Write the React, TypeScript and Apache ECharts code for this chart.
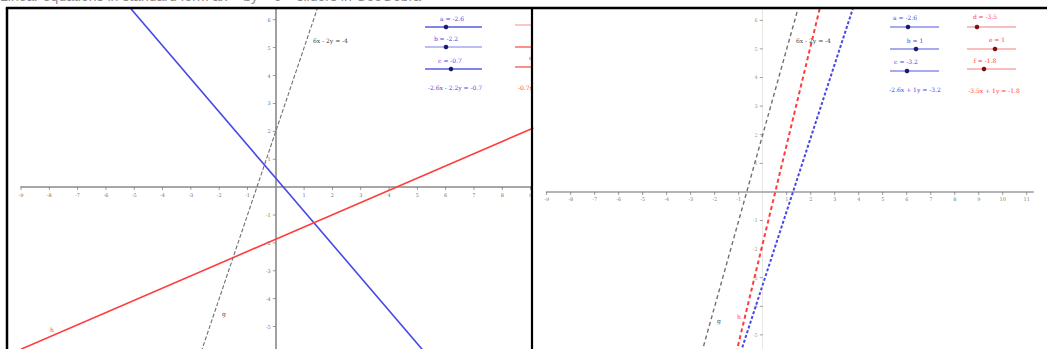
import React, { useEffect, useRef } from "react";
import * as echarts from "echarts";

// ---- data ----
const leftBlueLine = [[-5.3, 6.61], [5.2, -5.85]];
const leftRedLine = [[-9.0, -5.81], [9.1, 2.12]];
const leftGrayLine = [[-2.7, -6.1], [1.5, 6.5]];
const rightGrayLine = [[-2.7, -6.1], [1.5, 6.5]];
const rightRedLine = [[-1.24, -6.1], [2.4, 6.5]];
const rightBlueLine = [[-1.11, -6.1], [3.79, 6.5]];

const leftXTickValues = [-9, -8, -7, -6, -5, -4, -3, -2, -1, 1, 2, 3, 4, 5, 6, 7, 8, 9];
const leftYTickValues = [-5, -4, -3, -2, -1, 1, 2, 3, 4, 5, 6];
const rightXTickValues = [-9, -8, -7, -6, -5, -4, -3, -2, -1, 1, 2, 3, 4, 5, 6, 7, 8, 9, 10, 11];
const rightYTickValues = [-5, -4, -3, -2, -1, 1, 2, 3, 4, 5, 6];

const grayCoefs = [6, -2, -4];
const leftBlueNames = ["a", "b", "c"];
const leftBlueValues = [-2.6, -2.2, -0.7];
const leftRedNames = ["d", "e", "f"];
const leftRedValues = [-0.7, 1.6, -3];
const rightBlueNames = ["a", "b", "c"];
const rightBlueValues = [-2.6, 1, -3.2];
const rightRedNames = ["d", "e", "f"];
const rightRedValues = [-3.5, 1, -1.8];
const lineNames = ["g", "h"];
const caption = "Linear equations in standard form ax + by = c \u2013 sliders in GeoGebra";

const BLUE = "#4848e6";
const RED = "#ff3c3c";
const GRAY = "#707070";
const FONT = "DejaVu Serif";

function eq(v: number[]) {
  const [a, b, c] = v;
  const bs = b < 0 ? "- " + -b : "+ " + b;
  return `${a}x ${bs}y = ${c}`;
}

function txt(text: string, x: number, y: number, fill: string, size = 6, align = "center", z = 10) {
  return {
    type: "text",
    x,
    y,
    z,
    silent: true,
    style: { text, fill, fontSize: size, fontFamily: FONT, align, verticalAlign: "middle" },
  };
}

function seg(x1: number, y1: number, x2: number, y2: number, stroke: string, lineWidth: number, z = 10) {
  return {
    type: "line",
    z,
    silent: true,
    shape: { x1, y1, x2, y2 },
    style: { stroke, lineWidth },
  };
}

function slider(
  label: string,
  lx: number,
  ly: number,
  x1: number,
  x2: number,
  y: number,
  dotX: number,
  lineColor: string,
  dotColor: string,
  textColor: string
) {
  return [
    txt(label, lx, ly, textColor),
    seg(x1, y, x2, y, lineColor, 1.5),
    { type: "circle", z: 11, silent: true, shape: { cx: dotX, cy: y, r: 2.3 }, style: { fill: dotColor } },
  ];
}

function xTicks(vals: number[], idx: number, color: string) {
  return {
    type: "scatter",
    xAxisIndex: idx,
    yAxisIndex: idx,
    silent: true,
    data: vals.map((v) => [v, 0]),
    symbol: "rect",
    symbolSize: [0.8, 3],
    symbolOffset: [0, 1.5],
    itemStyle: { color: "#666" },
    label: {
      show: true,
      position: "bottom",
      distance: 2,
      fontSize: 5,
      fontFamily: FONT,
      color,
      formatter: (p: any) => String(p.value[0]),
    },
  };
}

function yTicks(vals: number[], idx: number, color: string) {
  return {
    type: "scatter",
    xAxisIndex: idx,
    yAxisIndex: idx,
    silent: true,
    data: vals.map((v) => [0, v]),
    symbol: "rect",
    symbolSize: [3, 0.8],
    symbolOffset: [-1.5, 0],
    itemStyle: { color: "#666" },
    label: {
      show: true,
      position: "left",
      distance: 2,
      fontSize: 5,
      fontFamily: FONT,
      color,
      formatter: (p: any) => String(p.value[1]),
    },
  };
}

export default function App() {
  const ref = useRef<HTMLDivElement>(null);
  useEffect(() => {
    if (!ref.current) return;
    const chart = echarts.init(ref.current, null, { renderer: "svg" });

    const axisBase = (lineColor: string, lw: number) => ({
      type: "value",
      interval: 1,
      splitLine: { show: false },
      axisLine: { onZero: true, lineStyle: { color: lineColor, width: lw } },
      axisTick: { show: false },
      axisLabel: { show: false },
    });

    const sliders: any[] = [];
    const lbl = [
      [452, 18, 27, 446],
      [446, 38, 47, 446],
      [450, 60, 69, 451],
    ];
    leftBlueNames.forEach((n, i) => {
      const [lx, ly, y, dx] = lbl[i];
      sliders.push(
        ...slider(`${n} = ${leftBlueValues[i]}`, lx, ly, 425, 482, y, dx, i === 1 ? "#a8a8f0" : "#5a5ae6", "#1a1a70", BLUE)
      );
    });
    sliders.push(txt(eq(leftBlueValues), 455, 87, BLUE));
    // left red sliders (cut by the divider)
    const lrY = [25, 47, 67];
    lrY.forEach((y, i) => {
      sliders.push(seg(515, y, 532, y, i === 0 ? "#f8b4b4" : "#ff6a6a", 1.5));
    });
    sliders.push(txt(`${leftRedNames[1]} = ${leftRedValues[1]}`, 529, 57, RED, 6, "left"));
    sliders.push(txt(eq(leftRedValues), 518, 87, RED, 6, "left"));
    // right blue sliders
    const rbl = [
      [905, 17, 27, 908],
      [915, 40, 49, 916],
      [906, 61, 71, 907],
    ];
    rightBlueNames.forEach((n, i) => {
      const [lx, ly, y, dx] = rbl[i];
      sliders.push(
        ...slider(`${n} = ${rightBlueValues[i]}`, lx, ly, 890, 939, y, dx, "#8c8cec", "#1a1a70", BLUE)
      );
    });
    sliders.push(txt(eq(rightBlueValues), 915, 89, BLUE));
    // right red sliders
    const rrl = [
      [985, 16, 27, 977],
      [997, 39, 49, 995],
      [985, 60, 69, 984],
    ];
    rightRedNames.forEach((n, i) => {
      const [lx, ly, y, dx] = rrl[i];
      sliders.push(
        ...slider(`${n} = ${rightRedValues[i]}`, lx, ly, 967, 1016, y, dx, "#f7a8a8", "#7a1010", RED)
      );
    });
    sliders.push(txt(eq(rightRedValues), 994, 90, RED));

    const grayEq = eq(grayCoefs);

    const option: any = {
      animation: false,
      backgroundColor: "#ffffff",
      grid: [
        { left: 21, top: 8, width: 511, height: 346.5, containLabel: false, outerBoundsMode: "none" },
        { left: 546.7, top: 8, width: 486.3, height: 355.5, containLabel: false, outerBoundsMode: "none" },
      ],
      xAxis: [
        { ...axisBase("#8a8a8a", 1.6), gridIndex: 0, min: -9, max: 9.05 },
        { ...axisBase("#b4b4b4", 2), gridIndex: 1, min: -9, max: 11.26 },
      ],
      yAxis: [
        { ...axisBase("#8a8a8a", 1.6), gridIndex: 0, min: -6, max: 6.42 },
        { ...axisBase("#e6e6e6", 1), gridIndex: 1, min: -6, max: 6.43 },
      ],
      series: [
        { type: "line", xAxisIndex: 0, yAxisIndex: 0, data: leftBlueLine, showSymbol: false, silent: true, lineStyle: { color: BLUE, width: 1.6 } },
        { type: "line", xAxisIndex: 0, yAxisIndex: 0, data: leftRedLine, showSymbol: false, silent: true, lineStyle: { color: RED, width: 1.6 } },
        { type: "line", xAxisIndex: 0, yAxisIndex: 0, data: leftGrayLine, showSymbol: false, silent: true, lineStyle: { color: GRAY, width: 1.1, type: [4, 2] } },
        { type: "line", xAxisIndex: 1, yAxisIndex: 1, data: rightGrayLine, showSymbol: false, silent: true, lineStyle: { color: GRAY, width: 1.4, type: [4, 3] } },
        { type: "line", xAxisIndex: 1, yAxisIndex: 1, data: rightRedLine, showSymbol: false, silent: true, lineStyle: { color: RED, width: 2, type: [4, 3] } },
        { type: "line", xAxisIndex: 1, yAxisIndex: 1, data: rightBlueLine, showSymbol: false, silent: true, lineStyle: { color: BLUE, width: 2, type: [3, 2] } },
        xTicks(leftXTickValues, 0, "#444"),
        yTicks(leftYTickValues, 0, "#444"),
        xTicks(rightXTickValues, 1, "#555"),
        yTicks(rightYTickValues, 1, "#777"),
      ],
      graphic: {
        elements: [
          {
            type: "text",
            x: 0,
            y: -11,
            z: 40,
            silent: true,
            style: { text: caption, fill: "#8a8a8a", fontSize: 14, fontFamily: "Liberation Sans", align: "left", verticalAlign: "top" },
          },
          txt(grayEq, 313, 40, "#444", 6, "left"),
          txt(grayEq, 796, 40, "#444", 6, "left"),
          txt(lineNames[1], 52, 329, RED, 6),
          txt(lineNames[0], 224, 313, "#444", 6),
          txt(lineNames[0], 719, 320, "#444", 6),
          txt(lineNames[1], 739, 316, RED, 6),
          ...sliders,
          { type: "rect", z: 50, silent: true, shape: { x: 533, y: 9, width: 90, height: 95 }, style: { fill: "#ffffff" } },
          { type: "rect", z: 55, silent: true, shape: { x: 0, y: 4, width: 1047, height: 3 }, style: { fill: "#ffffff" } },
          seg(5.8, 8, 1047, 8, "#000", 2.5, 60),
          seg(7, 8, 7, 349, "#000", 2.5, 60),
          seg(532, 8, 532, 349, "#000", 2.2, 60),
        ],
      },
    };
    chart.setOption(option);
    return () => chart.dispose();
  }, []);

  return (
    <div
      ref={ref}
      style={{ position: "fixed", left: 0, top: 0, width: 1047, height: 349, background: "#fff" }}
    />
  );
}
